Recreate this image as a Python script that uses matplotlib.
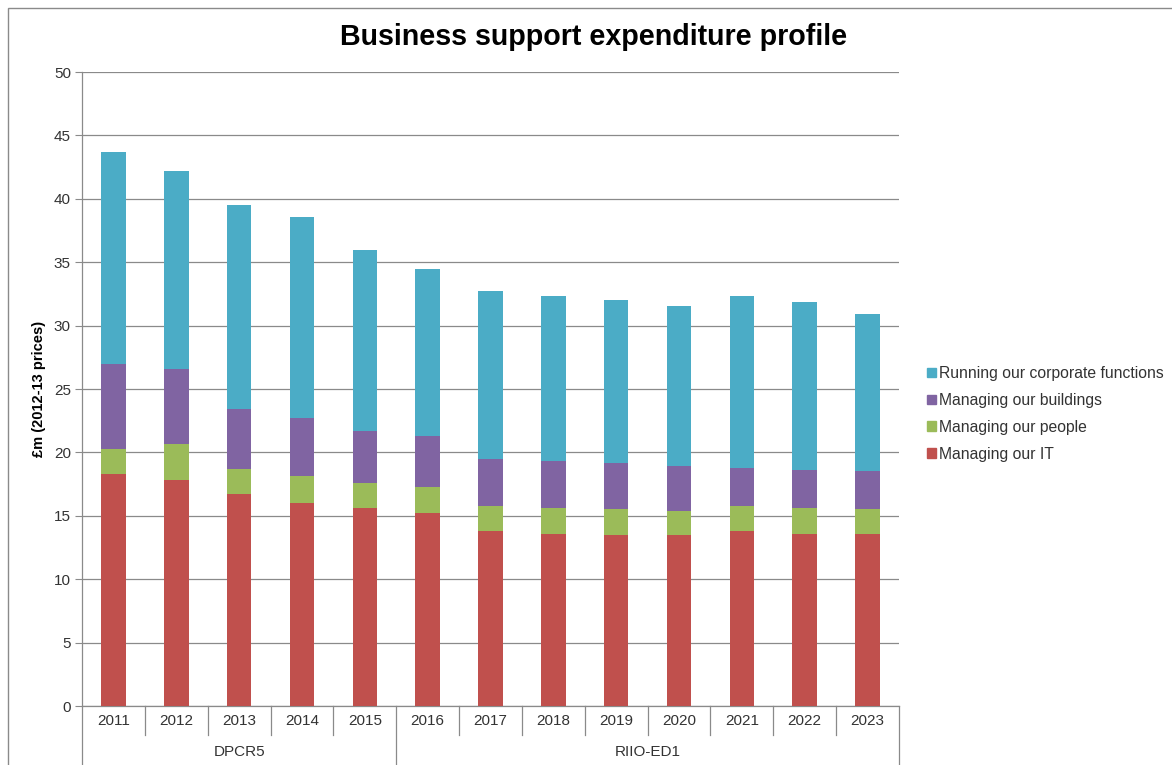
import numpy as np
import matplotlib.pyplot as plt
from matplotlib.patches import Patch, Rectangle
from matplotlib.transforms import blended_transform_factory

plt.rcParams['font.family'] = ['Liberation Sans', 'DejaVu Sans']

years = ['2011', '2012', '2013', '2014', '2015', '2016', '2017',
         '2018', '2019', '2020', '2021', '2022', '2023']
periods = ['DPCR5', 'RIIO-ED1']
period_len = [5, 8]

# £m, 2012-13 prices
it = [18.3, 17.8, 16.7, 16.0, 15.6, 15.2, 13.8, 13.6, 13.5, 13.5, 13.8, 13.6, 13.6]
people = [2.0, 2.9, 2.0, 2.1, 2.0, 2.1, 2.0, 2.0, 2.0, 1.9, 2.0, 2.0, 1.9]
buildings = [6.7, 5.85, 4.7, 4.6, 4.1, 4.0, 3.7, 3.7, 3.7, 3.5, 3.0, 3.0, 3.0]
corporate = [16.7, 15.65, 16.15, 15.85, 14.3, 13.2, 13.2, 13.05, 12.85, 12.65, 13.5, 13.3, 12.4]

series = [
    ('Managing our IT', it, '#C0504D'),
    ('Managing our people', people, '#9BBB59'),
    ('Managing our buildings', buildings, '#8064A2'),
    ('Running our corporate functions', corporate, '#4BACC6'),
]

fig = plt.figure(figsize=(11.72, 7.65), dpi=100)
ax = fig.add_axes([82 / 1172, 1 - 706 / 765, 817 / 1172, 634 / 765])

x = np.arange(len(years))
bottom = np.zeros(len(years))
for name, vals, col in series:
    ax.bar(x, vals, width=0.39, bottom=bottom, color=col, zorder=3)
    bottom += np.array(vals)

ax.set_xlim(-0.5, len(years) - 0.5)
ax.set_ylim(0, 50)
ax.set_yticks(range(0, 51, 5))
ax.yaxis.grid(True, color='#8a8a8a', linewidth=0.9)
ax.set_axisbelow(True)
for s in ['top', 'right', 'bottom']:
    ax.spines[s].set_visible(False)
ax.spines['left'].set_color('#8a8a8a')
ax.spines['left'].set_linewidth(0.9)
ax.tick_params(axis='y', length=5, color='#8a8a8a', labelsize=11,
               labelcolor='#333333', pad=3)
ax.set_xticks([])
ax.set_ylabel('£m (2012-13 prices)', fontsize=10.5, fontweight='bold', labelpad=6)

# two-level category axis
tr = blended_transform_factory(ax.transData, ax.transAxes)
gc = '#8a8a8a'
ax.plot([-0.5, len(years) - 0.5], [0, 0], transform=tr, color=gc, lw=0.9, clip_on=False)
edges = np.cumsum([0] + period_len) - 0.5
for i in range(len(years) + 1):
    xe = i - 0.5
    low = -0.12 if xe in edges else -0.046
    ax.plot([xe, xe], [0, low], transform=tr, color=gc, lw=0.9, clip_on=False)
for i, y in enumerate(years):
    ax.text(i, -0.024, y, transform=tr, ha='center', va='center',
            fontsize=11, color='#333333')
for j, p in enumerate(periods):
    ax.text((edges[j] + edges[j + 1]) / 2, -0.073, p, transform=tr,
            ha='center', va='center', fontsize=11, color='#333333')

fig.text(594 / 1172, 1 - 37 / 765, 'Business support expenditure profile',
         ha='center', va='center', fontsize=20.6, fontweight='bold')

handles = [Patch(color=c, label=n) for n, v, c in series][::-1]
fig.legend(handles=handles, loc='center left', bbox_to_anchor=(0.779, 0.459),
           frameon=False, fontsize=11.3, handlelength=0.55, handleheight=0.55,
           handletextpad=0.2, labelspacing=0.75, labelcolor='#333333')

# chart area border
fig.add_artist(Rectangle((8 / 1172, -0.1), 1.2, 1.1 - 8 / 765,
                         transform=fig.transFigure, fill=False,
                         edgecolor='#8a8a8a', linewidth=1))

fig.savefig('out.png', dpi=100)
